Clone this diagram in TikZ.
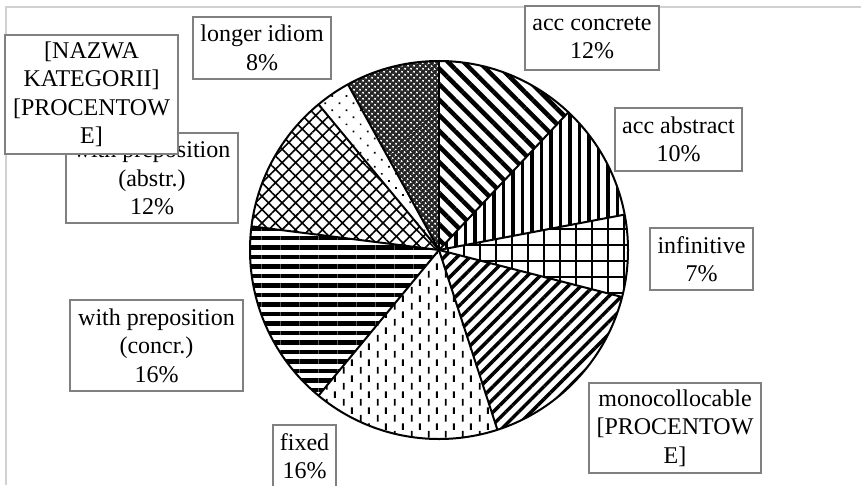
\documentclass[tikz,border=0pt]{standalone}
\usepackage{fontspec}
\setmainfont{Liberation Serif}
\usetikzlibrary{patterns,patterns.meta}
\pgfdeclarepatternformonly{vdashes}{\pgfqpoint{0pt}{0pt}}{\pgfqpoint{17pt}{16pt}}{\pgfqpoint{17pt}{16pt}}{%
  \pgfsetlinewidth{2pt}%
  \pgfpathmoveto{\pgfqpoint{4pt}{0.5pt}}\pgfpathlineto{\pgfqpoint{4pt}{7.5pt}}%
  \pgfpathmoveto{\pgfqpoint{12.5pt}{8.5pt}}\pgfpathlineto{\pgfqpoint{12.5pt}{15.5pt}}%
  \pgfusepath{stroke}}
\begin{document}
\begin{tikzpicture}[x=1pt,y=1pt,
  lbl/.style={draw=black!50, line width=1.3pt, fill=white, align=center, inner sep=0pt,
              font=\fontsize{24}{28.5}\selectfont},
  frameline/.style={black!18, line width=1.5pt},
  edge/.style={draw=black, line width=2pt, line join=round}]
\useasboundingbox (0,0) rectangle (861,-485);
\clip (0,0) rectangle (861,-485);
\draw[frameline] (5,-7) -- (861,-7);
\draw[frameline] (6,-7) -- (6,-485);

\coordinate (c) at (439,-250);
% acc concrete
\path[pattern={Lines[angle=-45,distance=11pt,line width=4.5pt]}] (c) -- ++(90:189pt) arc[start angle=90,end angle=46.8,radius=189pt] -- cycle;
% acc abstract
\path[pattern={Lines[angle=90,distance=9.5pt,line width=3.8pt]}] (c) -- ++(46.8:189pt) arc[start angle=46.8,end angle=10.8,radius=189pt] -- cycle;
% infinitive
\path[pattern={Hatch[angle=0,distance=16pt,line width=2pt]}] (c) -- ++(10.8:189pt) arc[start angle=10.8,end angle=-14.4,radius=189pt] -- cycle;
% monocollocable
\path[pattern={Lines[angle=45,distance=9pt,line width=3.5pt]}] (c) -- ++(-14.4:189pt) arc[start angle=-14.4,end angle=-72,radius=189pt] -- cycle;
% fixed
\path[pattern=vdashes] (c) -- ++(-72:189pt) arc[start angle=-72,end angle=-129.6,radius=189pt] -- cycle;
% with preposition (concr.)
\path[pattern={Lines[angle=0,distance=9.5pt,line width=4.5pt]}] (c) -- ++(-129.6:189pt) arc[start angle=-129.6,end angle=-187.2,radius=189pt] -- cycle;
% with preposition (abstr.)
\path[pattern={Hatch[angle=45,distance=9.5pt,line width=1.6pt]}] (c) -- ++(-187.2:189pt) arc[start angle=-187.2,end angle=-230.4,radius=189pt] -- cycle;
% nazwa kategorii
\path[pattern={Dots[angle=45,distance=10pt,radius=1.2pt]}] (c) -- ++(-230.4:189pt) arc[start angle=-230.4,end angle=-241.2,radius=189pt] -- cycle;
% longer idiom
\fill[black!85] (c) -- ++(-241.2:189pt) arc[start angle=-241.2,end angle=-270,radius=189pt] -- cycle;
\path[pattern={Dots[angle=45,distance=4pt,radius=1.25pt]}, pattern color=white] (c) -- ++(-241.2:189pt) arc[start angle=-241.2,end angle=-270,radius=189pt] -- cycle;

% outlines
\foreach \a in {90,46.8,10.8,-14.4,-72,-129.6,-187.2,-230.4,-241.2}
  \draw[edge] (c) -- ++(\a:189pt);
\draw[edge] (c) circle[radius=189pt];

% labels
\node[lbl, minimum width=138pt, minimum height=62pt] (longer) at (262,-48) {longer idiom\\8\%};
\node[lbl, minimum width=134pt, minimum height=64pt] (accc) at (592,-38) {acc concrete\\12\%};
\node[lbl, minimum width=127pt, minimum height=63pt] (acca) at (678.5,-139.5) {acc abstract\\10\%};
\node[lbl, minimum width=103pt, minimum height=62pt] (inf) at (701.5,-259) {infinitive\\7\%};
\node[lbl, minimum width=172pt, minimum height=90pt] (mono) at (675,-428) {monocollocable\\{}[PROCENTOW\\E]};
\node[lbl, minimum width=63pt, minimum height=62pt] (fixed) at (304.5,-456) {fixed\\16\%};
\node[lbl, minimum width=173pt, minimum height=91pt] (concr) at (156.5,-345.5) {with preposition\\(concr.)\\16\%};
\node[lbl, minimum width=172pt, minimum height=90pt] (abstr) at (152,-178) {with preposition\\(abstr.)\\12\%};
\node[lbl, minimum width=173pt, minimum height=119pt] (nazwa) at (91.5,-94.5) {[NAZWA\\KATEGORII]\\{}[PROCENTOW\\E]};
\end{tikzpicture}
\end{document}
